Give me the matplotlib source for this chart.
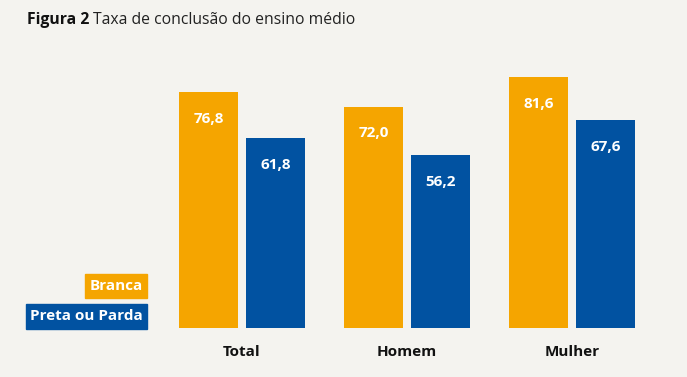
import matplotlib
matplotlib.use("Agg")
import matplotlib.pyplot as plt
from matplotlib.patches import Rectangle
import numpy as np

categories = ["Total", "Homem", "Mulher"]
branca = [76.8, 72.0, 81.6]
preta_parda = [61.8, 56.2, 67.6]
series_names = ["Branca", "Preta ou Parda"]

ORANGE = "#f5a500"
BLUE = "#0152a1"
BG = "#f4f3ef"
FONT = ["Open Sans", "DejaVu Sans"]
plt.rcParams["font.family"] = FONT

W, H = 687, 377
fig = plt.figure(figsize=(W / 100, H / 100), dpi=100)
fig.patch.set_facecolor(BG)

def fx(px):
    return px / W

def fy(py):
    return 1 - py / H

# axes spanning pixels x 160..655, y 60..328 (from top)
ax = fig.add_axes([fx(160), fy(328), fx(655) - fx(160), fy(60) - fy(328)])
ax.set_facecolor("none")
x = np.arange(len(categories))
bw = 0.358
off = 0.203
b1 = ax.bar(x - off, branca, bw, color=ORANGE)
b2 = ax.bar(x + off, preta_parda, bw, color=BLUE)
ax.set_xlim(-0.497, 2.503)
ax.set_ylim(0, 87.3)
for s in ax.spines.values():
    s.set_visible(False)
ax.set_yticks([])
ax.set_xticks(x)
ax.set_xticklabels(categories, fontsize=11, fontweight="bold", color="#111111")
ax.tick_params(axis="x", length=0, pad=12)

for bars, vals in ((b1, branca), (b2, preta_parda)):
    for rect, v in zip(bars, vals):
        ax.annotate(f"{v:.1f}".replace(".", ","),
                    (rect.get_x() + rect.get_width() / 2, v),
                    xytext=(0, -19), textcoords="offset points",
                    ha="center", va="center", color="white",
                    fontsize=11, fontweight="bold")

# Title
t1 = fig.text(fx(27), fy(20), "Figura 2", fontsize=11.3, fontweight="bold",
              ha="left", va="center", color="#111111")
fig.canvas.draw()
bb = t1.get_window_extent()
fig.text(fx(bb.x1 + 4), fy(20), "Taxa de conclusão do ensino médio",
         fontsize=11.3, ha="left", va="center", color="#222222")

# Legend boxes
legend = [(series_names[0], ORANGE, 85, 274, 147, 298),
          (series_names[1], BLUE, 26, 304, 147, 329)]
for name, col, x0, y0, x1, y1 in legend:
    fig.patches.append(Rectangle((fx(x0), fy(y1)), fx(x1) - fx(x0), fy(y0) - fy(y1),
                                 transform=fig.transFigure, color=col, zorder=1))
    fig.text(fx((x0 + x1) / 2), fy((y0 + y1) / 2), name, color="white",
             fontsize=11, fontweight="bold", ha="center", va="center", zorder=2)

fig.savefig("out.png", dpi=100, facecolor=BG)
